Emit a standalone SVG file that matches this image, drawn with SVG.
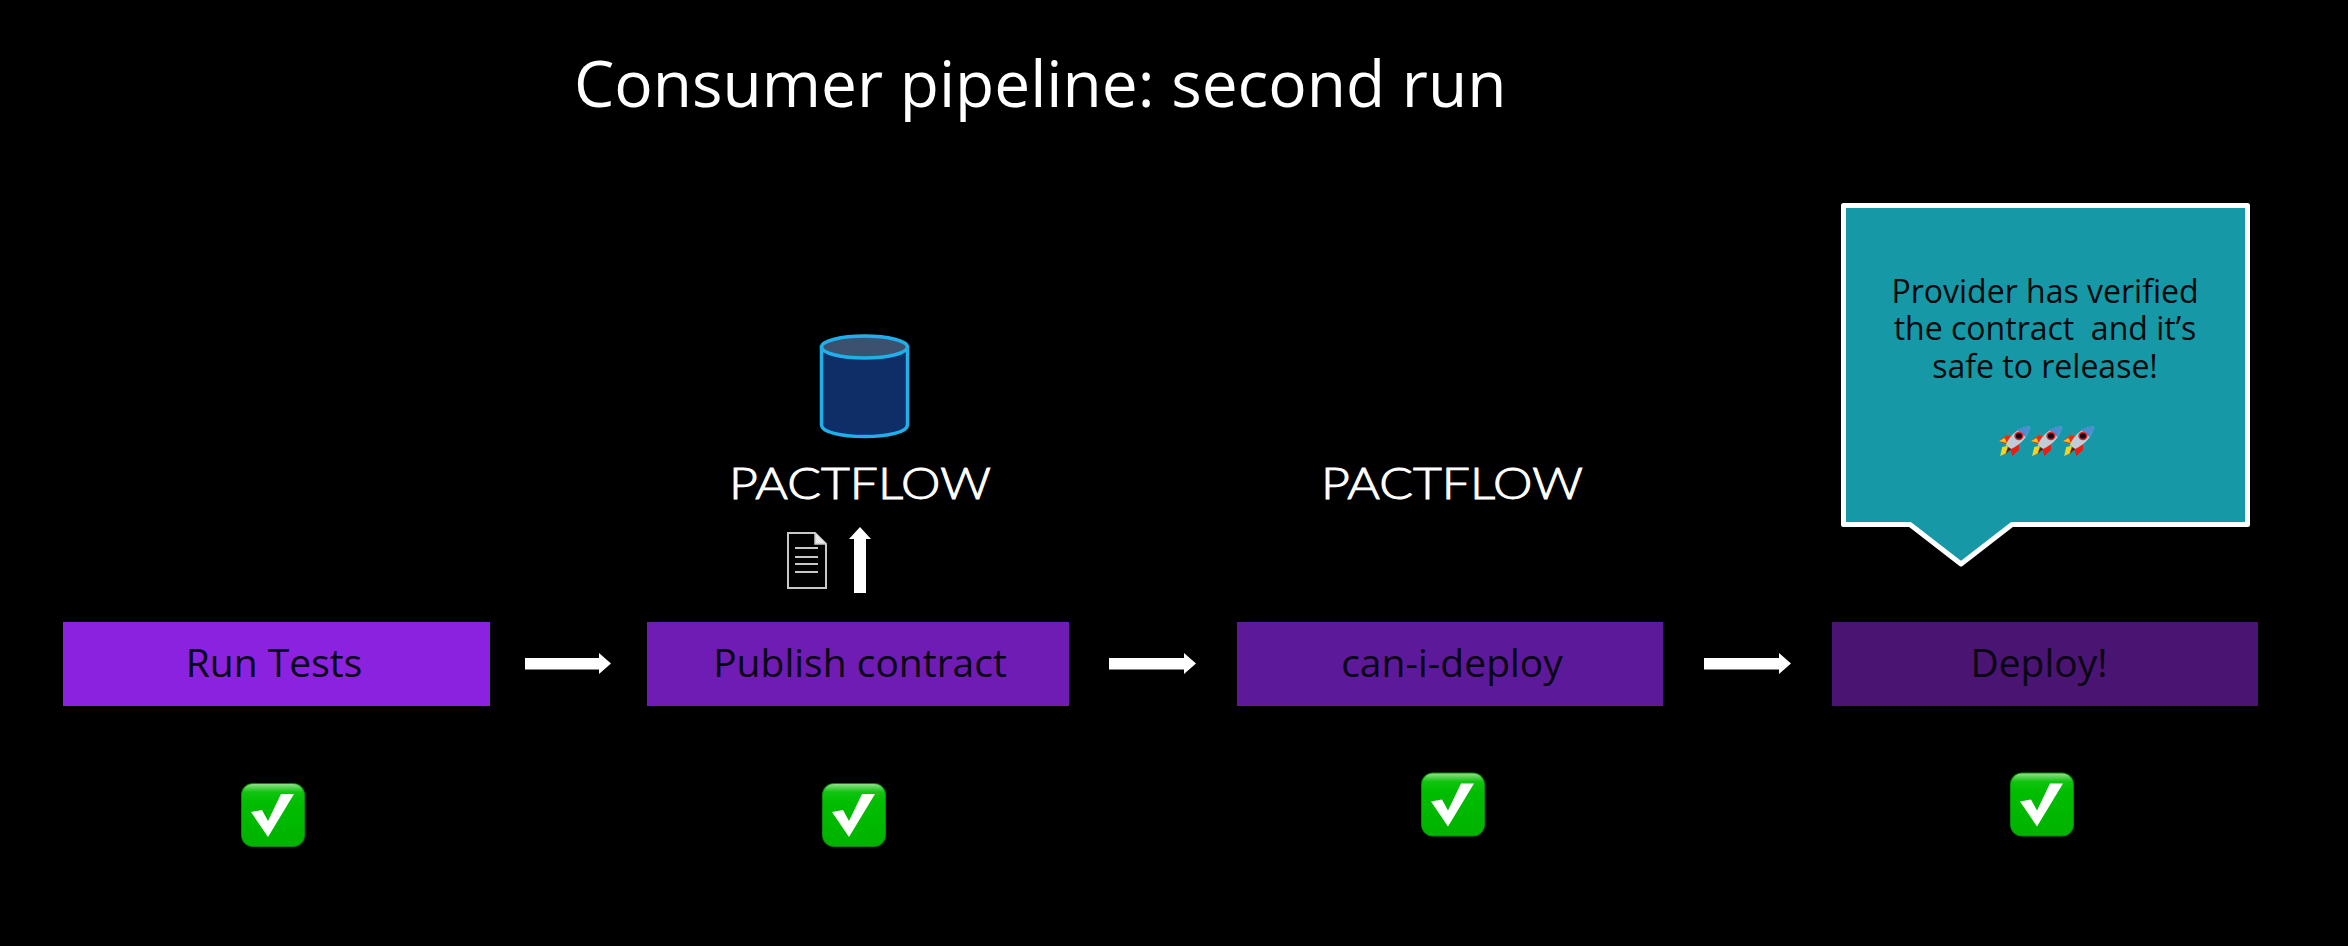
<svg xmlns="http://www.w3.org/2000/svg" xmlns:xlink="http://www.w3.org/1999/xlink" width="2348" height="946" viewBox="0 0 2348 946">
<style>
text{font-family:"Open Sans","Noto Sans",sans-serif}
.t{font-size:39px;fill:#0a0412;text-anchor:middle}
.c{font-size:32px;fill:#03090c;text-anchor:middle}
.logo{font-family:"Lato","Liberation Sans",sans-serif;font-size:43px;font-weight:300;fill:#fff;stroke:#fff;stroke-width:1;text-anchor:start}
</style>
<defs>
<linearGradient id="gg" x1="0" y1="0" x2="0" y2="1"><stop offset="0" stop-color="#8fe088"/><stop offset=".13" stop-color="#10c410"/><stop offset=".3" stop-color="#00bd00"/><stop offset="1" stop-color="#00b300"/></linearGradient>
<symbol id="check" viewBox="0 0 64 64" overflow="visible">
<rect width="64" height="64" rx="12" fill="#058c05"/>
<rect x="1" y="1" width="62" height="62" rx="11" fill="url(#gg)"/>
<path d="M10 29 L21 27 L27 38 L40 11 L53 11 L27 54 Z" fill="#fff"/>
</symbol>
<symbol id="rocket" viewBox="3 1 28 30" preserveAspectRatio="none" overflow="visible">
<path d="M3 16 L10 10 L16 11 L9 19 Z" fill="#e8320f"/>
<path d="M3 16 L8 13 L10 18 Z" fill="#f8c21a"/>
<path d="M13 23 L21 17 L21 25 L15 31 Z" fill="#ee1c12"/>
<path d="M4 31 L6 22 L10 21 L13 24 L10 28 Z" fill="#f5d321"/>
<path d="M9 20 C13 10 20 3 31 1 C30 11 23 19 14 24 Z" fill="#c3ccd4"/>
<path d="M19 5 C24 2 28 1 31 1 C31 5 29 9 27 12 Z" fill="#4b8fd0"/>
<circle cx="21" cy="11" r="4.200" fill="#e5222a"/><circle cx="21" cy="11" r="2.800" fill="#101018"/>
<path d="M11 22 L14 24 L9 29 Z" fill="#5a1a10"/>
</symbol>
</defs>
<rect width="2348" height="946" fill="#000"/>
<text x="574" y="107" style="font-size:64px" fill="#fff">Consumer pipeline: second run</text>

<g id="connectors" fill="#fff">
<path id="arrow-1" d="M525 658H599V653L611 663.500L599 674V669.500H525Z"/>
<path id="arrow-2" d="M1109 658H1184V653L1196 663.500L1184 674V669.500H1109Z"/>
<path id="arrow-3" d="M1704 658H1779V653L1791 663.500L1779 674V669.500H1704Z"/>
</g>

<g id="run-tests"><rect x="63" y="622" width="427" height="84" fill="#8a22e0"/><text class="t" x="274" y="677">Run Tests</text><use xlink:href="#check" href="#check" x="241" y="783" width="64" height="64"/></g>
<g id="publish-contract"><rect x="647" y="622" width="422" height="84" fill="#6f1cb5"/><text class="t" x="860" y="677">Publish contract</text><use xlink:href="#check" href="#check" x="822" y="783" width="64" height="64"/></g>
<g id="can-i-deploy"><rect x="1237" y="622" width="426" height="84" fill="#5c1a9a"/><text class="t" x="1452" y="677">can-i-deploy</text><use xlink:href="#check" href="#check" x="1421" y="772.500" width="64" height="64"/></g>
<g id="deploy"><rect x="1832" y="622" width="426" height="84" fill="#4a1572"/><text class="t" x="2039" y="677">Deploy!</text><use xlink:href="#check" href="#check" x="2010" y="772.500" width="64" height="64"/></g>

<g id="database">
<path d="M821.500 347V425C821.500 432 841 436.500 864.500 436.500S907.500 432 907.500 425V347Z" fill="#0f2d66" stroke="#1fb0ea" stroke-width="3.500"/>
<ellipse cx="864.500" cy="347" rx="43" ry="11" fill="#3c5170" stroke="#1fb0ea" stroke-width="3.500"/>
</g>
<g id="pactflow-1"><text class="logo" x="729" y="498.500" textLength="262" lengthAdjust="spacingAndGlyphs">PACTFLOW</text></g>
<g id="pactflow-2"><text class="logo" x="1321" y="498.500" textLength="262" lengthAdjust="spacingAndGlyphs">PACTFLOW</text></g>

<g id="contract-doc" fill="none" stroke="#c8c8c8">
<path d="M788 533H815L826 544V588H788Z" fill="#000" stroke-width="2"/>
<path d="M815 533V544H826" fill="#e8e8e8" stroke-width="1.500"/>
<path d="M795 548H818M795 557H818M795 564H818M795 572H818" stroke-width="2"/>
</g>
<g id="upload-arrow"><path d="M860 527L871 539H866V593H854V539H849Z" fill="#fff"/></g>

<g id="callout">
<path d="M1843.500 205.500H2247.500V524.500H2012L1961 564L1910 524.500H1843.500Z" fill="#1798a6" stroke="#fff" stroke-width="5" stroke-linejoin="round"/>
<text class="c" x="2045" y="303">Provider has verified</text>
<text class="c" x="2045" y="340" xml:space="preserve">the contract  and it’s</text>
<text class="c" x="2045" y="378">safe to release!</text>
<use xlink:href="#rocket" href="#rocket" x="1999" y="426" width="31" height="30"/>
<use xlink:href="#rocket" href="#rocket" x="2031" y="426" width="31" height="30"/>
<use xlink:href="#rocket" href="#rocket" x="2063" y="426" width="31" height="30"/>
</g>
</svg>
